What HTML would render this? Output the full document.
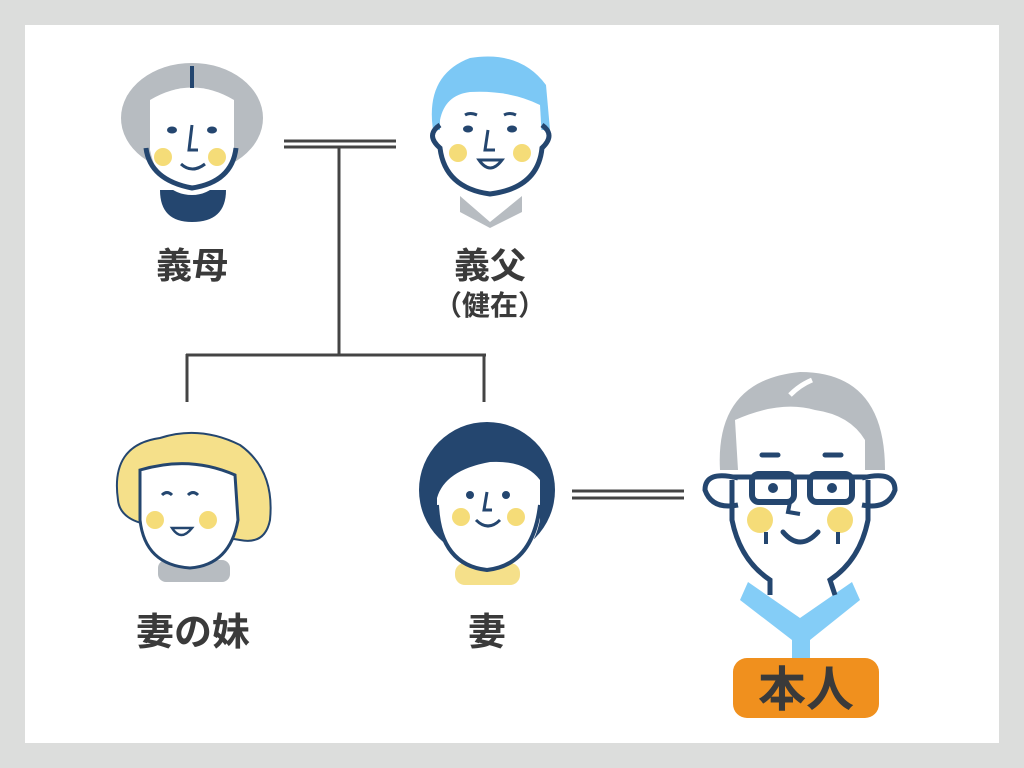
<!DOCTYPE html>
<html><head><meta charset="utf-8"><style>
html,body{margin:0;padding:0;background:#dcdddc;}
svg{display:block}
text{font-family:"Liberation Sans","Noto Sans CJK JP",sans-serif;font-weight:bold;fill:#3a3a3a;text-anchor:middle}
</style></head><body>
<svg width="1024" height="768" viewBox="0 0 1024 768">
<rect x="0" y="0" width="1024" height="768" fill="#dcdddc"/>
<rect x="25" y="25" width="974" height="718" fill="#fff"/>
<g stroke="#444" stroke-width="3" fill="none">
<line x1="284" y1="141" x2="396" y2="141"/><line x1="284" y1="147" x2="396" y2="147"/>
<line x1="339" y1="147" x2="339" y2="355"/>
<line x1="186" y1="355" x2="486" y2="355"/>
<line x1="187" y1="354" x2="187" y2="402"/><line x1="484" y1="354" x2="484" y2="402"/>
<line x1="572" y1="491" x2="684" y2="491"/><line x1="572" y1="498" x2="684" y2="498"/>
</g>
<!-- mother -->
<g>
<ellipse cx="192" cy="118" rx="71" ry="55" fill="#b7bcc1"/>
<path d="M160 190 L226 190 Q226 222 192 222 Q160 222 160 190 Z" fill="#24466f"/>
<path d="M150 100 Q192 75 234 100 L234 150 Q222 195 192 195 Q160 195 150 150 Z" fill="#fff"/>
<path d="M146 148 Q150 180 192 188 Q232 182 236 148" fill="none" stroke="#24466f" stroke-width="5"/>
<line x1="192" y1="66" x2="192" y2="88" stroke="#24466f" stroke-width="4"/>
<circle cx="163" cy="157" r="9" fill="#f5dc78"/><circle cx="217" cy="157" r="9" fill="#f5dc78"/>
<ellipse cx="172" cy="130" rx="5" ry="3.5" fill="#24466f"/><ellipse cx="212" cy="130" rx="5" ry="3.5" fill="#24466f"/>
<path d="M192 125 L189 150 L198 150" fill="none" stroke="#24466f" stroke-width="3"/>
<path d="M181 164 Q192 174 205 164" fill="none" stroke="#24466f" stroke-width="3"/>
</g>
<text x="192" y="278" font-size="36">義母</text>
<!-- father -->
<g>
<path d="M460 196 L490 222 L522 196 L522 212 L490 228 L460 212 Z" fill="#b7bcc1"/>
<path d="M433 130 Q425 75 470 58 Q520 50 546 85 L550 130 Z" fill="#7cc8f5"/>
<path d="M440 120 Q445 95 470 92 Q510 90 540 105 L542 140 Q540 190 490 195 Q445 190 440 140 Z" fill="#fff"/>
<path d="M440 125 Q425 135 440 148 Q445 188 490 194 Q538 188 542 148 Q556 135 542 125" fill="none" stroke="#24466f" stroke-width="5"/>
<circle cx="458" cy="153" r="9" fill="#f5dc78"/><circle cx="522" cy="153" r="9" fill="#f5dc78"/>
<ellipse cx="468" cy="129" rx="5" ry="3.5" fill="#24466f"/><ellipse cx="512" cy="129" rx="5" ry="3.5" fill="#24466f"/>
<path d="M465 115 Q470 112 477 115 M504 115 Q510 112 516 115" stroke="#24466f" stroke-width="3" fill="none"/>
<path d="M488 130 L485 150 L495 150" fill="none" stroke="#24466f" stroke-width="3"/>
<path d="M479 160 Q490 176 502 160 Z" fill="#fff" stroke="#24466f" stroke-width="3"/>
</g>
<text x="490" y="278" font-size="36">義父</text>
<text x="490" y="315" font-size="28">（健在）</text>
<!-- sister -->
<g>
<path d="M118 500 Q110 445 160 438 Q200 425 240 445 Q275 470 270 520 Q265 545 240 540 L150 525 Q120 520 118 500 Z" fill="#f5e08a" stroke="#24466f" stroke-width="2"/>
<rect x="158" y="560" width="72" height="22" rx="8" fill="#b7bcc1"/>
<path d="M140 470 Q190 455 235 475 L238 520 Q230 565 190 568 Q145 565 140 520 Z" fill="#fff" stroke="#24466f" stroke-width="3"/>
<circle cx="155" cy="520" r="9" fill="#f5dc78"/><circle cx="208" cy="520" r="9" fill="#f5dc78"/>
<path d="M162 495 Q167 490 172 495 M188 495 Q193 490 198 495" stroke="#24466f" stroke-width="3" fill="none"/>
<path d="M172 528 Q181 542 192 528 Z" fill="#fff" stroke="#24466f" stroke-width="2.5"/>
</g>
<text x="193" y="645" font-size="38">妻の妹</text>
<!-- wife -->
<g>
<rect x="455" y="563" width="65" height="22" rx="10" fill="#f5e08a"/>
<circle cx="487" cy="490" r="68" fill="#24466f"/>
<path d="M437 498 Q445 470 490 462 Q525 460 540 480 L540 520 Q530 568 487 570 Q445 568 437 520 Z" fill="#fff"/>
<path d="M437 505 Q440 565 487 570 Q533 565 540 505" fill="none" stroke="#24466f" stroke-width="4"/>
<circle cx="461" cy="517" r="9" fill="#f5dc78"/><circle cx="516" cy="517" r="9" fill="#f5dc78"/>
<ellipse cx="470" cy="495" rx="4" ry="4" fill="#24466f"/><ellipse cx="506" cy="495" rx="4" ry="4" fill="#24466f"/>
<path d="M487 492 L484 510 L492 510" fill="none" stroke="#24466f" stroke-width="3"/>
<path d="M476 520 Q488 532 500 520" fill="none" stroke="#24466f" stroke-width="3"/>
</g>
<text x="487" y="645" font-size="38">妻</text>
<!-- me -->
<g>
<path d="M748 582 L800 618 L852 582 L860 600 L810 640 L810 660 L792 660 L792 640 L740 600 Z" fill="#84cdf7"/>
<path d="M720 470 Q715 380 800 372 Q885 372 885 470 Z" fill="#b7bcc1"/>
<path d="M738 470 L735 420 Q780 400 815 410 Q850 415 865 440 L865 470 Z" fill="#fff"/>
<path d="M790 395 Q800 385 812 380" stroke="#fff" stroke-width="5" fill="none"/>
<path d="M732 480 L732 520 Q740 560 770 580 L770 595 M868 480 L868 520 Q860 560 830 580 L835 595" fill="none" stroke="#24466f" stroke-width="5"/>
<path d="M738 478 Q705 470 705 490 Q712 510 738 505 M862 478 Q895 470 895 490 Q888 510 862 505" fill="none" stroke="#24466f" stroke-width="5"/>
<rect x="752" y="474" width="42" height="28" rx="7" fill="none" stroke="#24466f" stroke-width="6"/>
<rect x="810" y="474" width="42" height="28" rx="7" fill="none" stroke="#24466f" stroke-width="6"/>
<line x1="732" y1="477" x2="868" y2="477" stroke="#24466f" stroke-width="5"/>
<ellipse cx="773" cy="488" rx="5" ry="5" fill="#24466f"/><ellipse cx="832" cy="488" rx="5" ry="5" fill="#24466f"/>
<path d="M762 455 L778 455 M825 455 L841 455" stroke="#24466f" stroke-width="5" stroke-linecap="round"/>
<path d="M790 502 L788 512 L800 514" fill="none" stroke="#24466f" stroke-width="4"/>
<circle cx="760" cy="520" r="13" fill="#f5dc78"/><circle cx="840" cy="520" r="13" fill="#f5dc78"/>
<path d="M783 532 Q800 552 818 532" fill="none" stroke="#24466f" stroke-width="5" stroke-linecap="round"/>
<line x1="766" y1="532" x2="766" y2="544" stroke="#24466f" stroke-width="4"/><line x1="838" y1="532" x2="838" y2="544" stroke="#24466f" stroke-width="4"/>
</g>
<rect x="733" y="658" width="146" height="60" rx="14" fill="#f0901e"/>
<text x="806" y="706" font-size="48">本人</text>
</svg>
</body></html>
